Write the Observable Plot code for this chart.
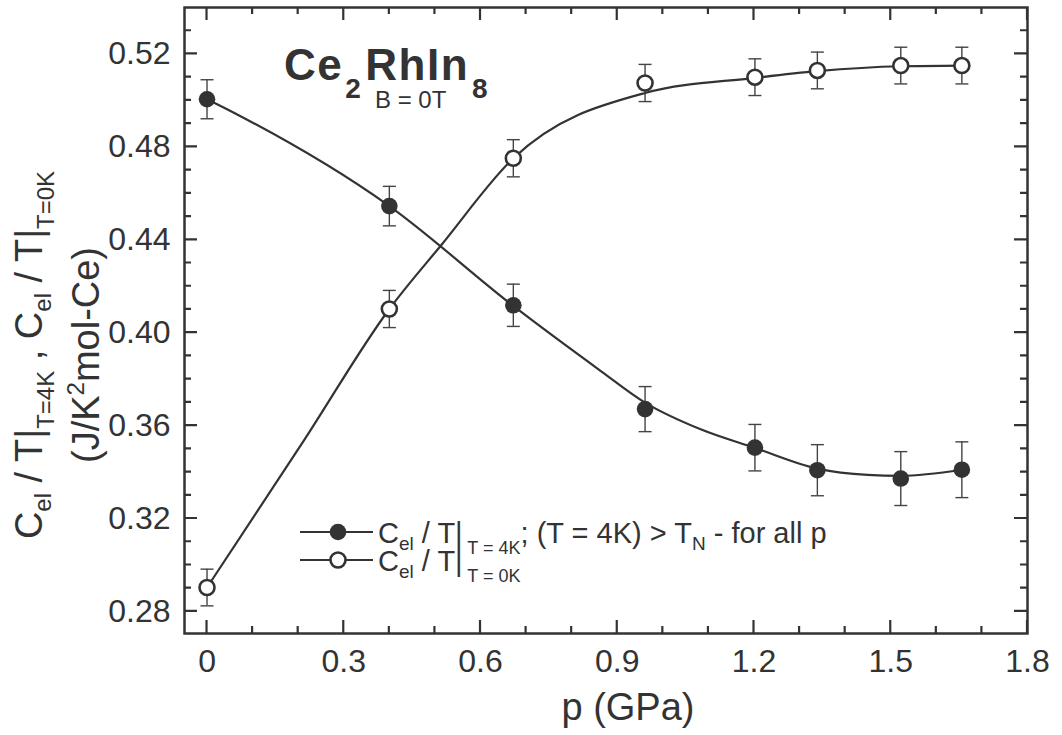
<!DOCTYPE html>
<html><head><meta charset="utf-8">
<script src="https://cdn.jsdelivr.net/npm/d3@7"></script>
<script src="https://cdn.jsdelivr.net/npm/@observablehq/plot@0.6"></script>
<style>body{margin:0;background:#fff;}</style>
</head><body><div id="chart"></div>
<script>
// ---- measured data (with error bars) ----
const pressure = [0, 0.40, 0.672, 0.961, 1.202, 1.339, 1.522, 1.656];
const c4K    = [0.5005, 0.4545, 0.4118, 0.3671, 0.3505, 0.3408, 0.3372, 0.3410];
const c4KErr = [0.0084, 0.0085, 0.0091, 0.0097, 0.0100, 0.0110, 0.0116, 0.0120];
const c0K    = [0.2903, 0.4102, 0.4751, 0.5075, 0.5100, 0.5129, 0.5150, 0.5150];
const c0KErr = [0.0079, 0.0080, 0.0080, 0.0080, 0.0079, 0.0079, 0.0079, 0.0079];
// ---- guide-to-the-eye curves ----
const fitP4K = [0, 0.0735, 0.40, 0.672, 0.864, 0.961, 1.083, 1.202, 1.339, 1.449, 1.522, 1.656];
const fit4K  = [0.5005, 0.4932, 0.4545, 0.4115, 0.3835, 0.3699, 0.3584, 0.3504, 0.3415, 0.3388, 0.3384, 0.3410];
const fitP0K = [0, 0.212, 0.40, 0.515, 0.672, 0.961, 1.202, 1.339, 1.522, 1.656];
const fit0K  = [0.2903, 0.3534, 0.4102, 0.4380, 0.4751, 0.5032, 0.5097, 0.5126, 0.5147, 0.5150];
// ---- axes ----
const xTicks = [0, 0.3, 0.6, 0.9, 1.2, 1.5, 1.8];
const yTicks = [0.28, 0.32, 0.36, 0.40, 0.44, 0.48, 0.52];
const xMinor = [0.1, 0.2, 0.4, 0.5, 0.7, 0.8, 1.0, 1.1, 1.3, 1.4, 1.6, 1.7];
const yMinor = [0.29, 0.30, 0.31, 0.33, 0.34, 0.35, 0.37, 0.38, 0.39, 0.41, 0.42, 0.43,
                0.45, 0.46, 0.47, 0.49, 0.50, 0.51, 0.53];
const xDomain = [-0.0494, 1.8];
const yDomain = [0.2705, 0.54];

const s4K = pressure.map((p, i) => ({p, v: c4K[i], lo: c4K[i] - c4KErr[i], hi: c4K[i] + c4KErr[i]}));
const s0K = pressure.map((p, i) => ({p, v: c0K[i], lo: c0K[i] - c0KErr[i], hi: c0K[i] + c0KErr[i]}));
const f4K = fitP4K.map((p, i) => ({p, v: fit4K[i]}));
const f0K = fitP0K.map((p, i) => ({p, v: fit0K[i]}));

const INK = "#333";
const FONT = "'Liberation Sans', Arial, Helvetica, sans-serif";
const W = 1062, H = 735, mL = 184, mR = 35, mT = 7, mB = 102;
const MAJ = 13, MIN = 7;

const cap = {draw(ctx, size) { const r = Math.sqrt(size / Math.PI); ctx.moveTo(-r, 0); ctx.lineTo(r, 0); }};

function errMarks(data) {
  return [
    Plot.ruleX(data, {x: "p", y1: "lo", y2: "hi", stroke: "#444", strokeWidth: 1.4}),
    Plot.dot(data, {x: "p", y: "lo", symbol: cap, r: 6.5, stroke: "#444", strokeWidth: 1.4, fill: "none"}),
    Plot.dot(data, {x: "p", y: "hi", symbol: cap, r: 6.5, stroke: "#444", strokeWidth: 1.4, fill: "none"})
  ];
}

const plot = Plot.plot({
  width: W, height: H,
  marginLeft: mL, marginRight: mR, marginTop: mT, marginBottom: mB,
  style: {fontFamily: FONT, color: INK, background: "white", overflow: "visible"},
  x: {domain: xDomain},
  y: {domain: yDomain},
  marks: [
    Plot.axisX(xTicks, {tickSize: 0, tickPadding: 16, fontSize: 32, tickFormat: d => d === 0 ? "0" : d.toFixed(1), label: null}),
    Plot.axisY(yTicks, {tickSize: 0, tickPadding: 14, fontSize: 32, tickFormat: d => d.toFixed(2), label: null}),
    ...errMarks(s4K),
    ...errMarks(s0K),
    Plot.line(f4K, {x: "p", y: "v", curve: "monotone-x", stroke: INK, strokeWidth: 2.2}),
    Plot.line(f0K, {x: "p", y: "v", curve: "monotone-x", stroke: INK, strokeWidth: 2.2}),
    Plot.dot(s4K, {x: "p", y: "v", r: 8.3, fill: INK, stroke: "none"}),
    Plot.dot(s0K, {x: "p", y: "v", r: 7.5, fill: "white", stroke: INK, strokeWidth: 2.6}),
    Plot.frame({stroke: INK, strokeWidth: 2.5})
  ]
});
document.getElementById("chart").appendChild(plot);

const svg = d3.select(plot);
const sx = plot.scale("x"), sy = plot.scale("y");
const L = mL, R = W - mR, T = mT, B = H - mB;

// inward ticks on all four sides, placed with the plot's scales
let d = "";
function xt(vals, len) {
  vals.forEach(v => {
    const x = sx.apply(v);
    d += `M${x},${B}V${B - len}M${x},${T}V${T + len}`;
  });
}
function yt(vals, len) {
  vals.forEach(v => {
    const y = sy.apply(v);
    d += `M${L},${y}H${L + len}M${R},${y}H${R - len}`;
  });
}
xt(xTicks, MAJ); xt(xMinor, MIN); yt(yTicks, MAJ); yt(yMinor, MIN);
svg.append("path").attr("d", d).attr("fill", "none").attr("stroke", INK).attr("stroke-width", 2.2);

// ---- annotations ----
const g = svg.append("g").attr("font-family", FONT).attr("fill", INK).attr("text-anchor", "start");

g.append("text").attr("x", 628).attr("y", 720).attr("text-anchor", "middle")
  .attr("font-size", 38).text("p (GPa)");

function addRuns(t, runs) {
  runs.forEach(([txt, size, dy, dx]) => {
    const s = t.append("tspan").text(txt);
    if (size) s.attr("font-size", size);
    if (dy) s.attr("dy", dy);
    if (dx) s.attr("dx", dx);
  });
}
const y1 = g.append("text").attr("transform", "translate(42,355) rotate(-90)")
  .attr("text-anchor", "middle").attr("font-size", 38).style("white-space", "pre");
addRuns(y1, [["C"], ["el", 24, 9], [" / T|", null, -9], ["T=4K", 24, 12], [" , C", null, -12],
  ["el", 24, 9], [" / T|", null, -9], ["T=0K", 24, 12]]);
const y2 = g.append("text").attr("transform", "translate(99,355) rotate(-90)")
  .attr("text-anchor", "middle").attr("font-size", 38);
addRuns(y2, [["(J/K"], ["2", 24, -15], ["mol-Ce)", null, 15]]);

const tt = g.append("text").attr("x", 284).attr("y", 80).attr("font-size", 44)
  .attr("font-weight", "bold").attr("letter-spacing", 1.5);
addRuns(tt, [["Ce"], ["2", 28, 18, 2], ["RhIn", null, -18, 3], ["8", 28, 18, 3]]);
g.append("text").attr("x", 375).attr("y", 108).attr("font-size", 24).text("B = 0T");

function legendRow(y, filled, runs) {
  g.append("line").attr("x1", 300).attr("x2", 373).attr("y1", y).attr("y2", y)
    .attr("stroke", INK).attr("stroke-width", 2.2);
  g.append("circle").attr("cx", 338).attr("cy", y).attr("r", filled ? 8.3 : 7.5)
    .attr("fill", filled ? INK : "white").attr("stroke", filled ? "none" : INK).attr("stroke-width", 2.6);
  const t = g.append("text").attr("x", 378).attr("y", y + 11).attr("font-size", 29).style("white-space", "pre");
  addRuns(t, runs);
}
legendRow(532, true, [["C"], ["el", 19, 7], [" / T|", null, -7], [" T = 4K", 18, 11], ["; (T = 4K) > T", null, -11],
  ["N", 19, 7], [" - for all p", null, -7]]);
legendRow(560, false, [["C"], ["el", 19, 7], [" / T|", null, -7], [" T = 0K", 18, 11]]);
</script>
</body></html>
